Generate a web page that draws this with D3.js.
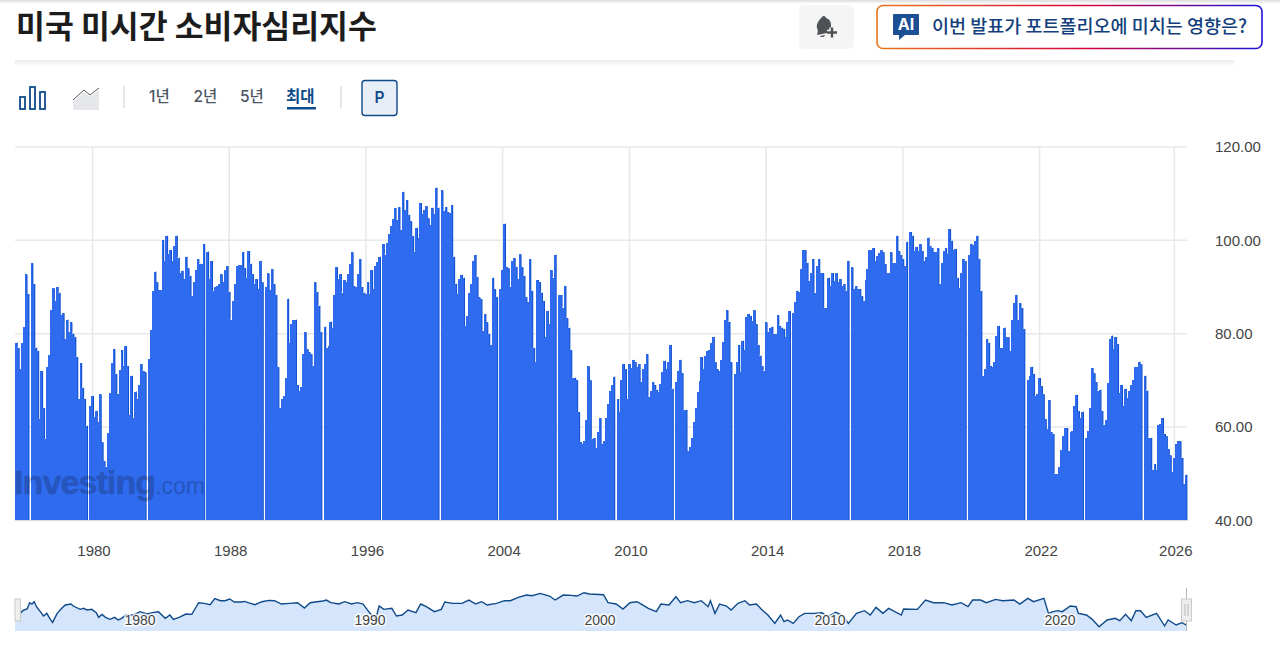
<!DOCTYPE html>
<html>
<head>
<meta charset="utf-8">
<script src="https://cdn.jsdelivr.net/npm/d3@7"></script>
<style>
  body { margin: 0; background: #fff; }
  svg { display: block; }
  text { font-family: Inter, "Noto Sans CJK KR", sans-serif; }
</style>
</head>
<body>
<svg id="chart" width="1280" height="655"></svg>
<script>
// main bars, split where the chart leaves a white gap
var seg0 = [78.1,77,72.4,78.1,81.5,92.7,88.5];
var seg1 = [95.1,90.6,77,76.3,61.7,72,64,57.5,72.8,75.5,85,89.7,87,90,88.8,84,84.4,78.8,83,80.3,82.4,80,79.3,75,66,73.7,68.4,66,60.3];
var seg2 = [64.6,66.6,62.2,63.5,61,67,56.7,52.7,51.5,58.7,67.2,73.7,76.7,71.4,67,72.2,76.5,73,77.3,73,62.5,71,62,67.6,66,69,73.5,72,71.7];
var seg3 = [74.6,80.8,89.2,93.3,91,89.3,89.3,100,95.6,101,97,98,95.6,98.8,101,96.3,93,93.5,91.7,96.5,94,92.4,88,91,93.7,96,95,94.9,99.2];
var seg4 = [97.6,91.7,95.6,89.2,90,90.3,90.7,92.7,91,93.6,94.5,89,83,87,90.6,94.5,94.7,94.7,97.5,94,92,97.7,95,92.7,90.7,91.7,89.5,95.6,91];
var seg5 = [90,92.9,89.3,93.8,90.6,88.3,72.8,64,66,66.7,70.4,87.5,78,82,83,83,69,67.8,68.5,75.6,80.3,76.7,76,75.6,73.1,91,89,86,80.3];
var seg6 = [81.5,77,77.4,82.6,81.2,88.3,94.2,91.7,92.8,88.8,91.5,91,92.8,95,97.4,90.2,90,92.8,96,90,88.8,88.5,91,88.5,93.6,89.5,94.5,95.4,96.5];
var seg7 = [99.2,96.9,99.5,101.3,103,104.5,106.9,104.3,107.1,102.2,110.4,106.4,108.6,105.5,104.1,101,97.6,102.7,100.4,108,105.7,106.4,107.3,104.7,103.2,107,105.6,111.3,107];
var seg8 = [110.7,106.3,107.1,106,105.8,107.6,96.5,90.7,88.5,91.7,92.6,92,81.7,83.8,88.8,90.6,95.6,96.9,92.2,87.8,87.4,80.6,84.2,82.4,79.9,77.6,92,89.5,87.8];
var seg9 = [89.5,93.6,103.6,94.3,94,90,95.6,96.2,94.3,91.7,97,94.2,92.4,87.8,86.7,96,89.2,77,74,91.5,91,88.8,87,79.2,84.9,82,93.6,92,96.9];
var seg10 = [88.3,88.3,85.6,90.2,83.3,81.3,76.4,70.6,70.6,70,63.2,56.7,56.4,57,61.4,73,70,57.5,57.6,55.5,58.9,61.9,56.3,57,61.9,65,67.8,68.9,70.8];
var seg11 = [66,63.2,70,73.5,72.4,66,73.5,72.6,74.4,73.9,72.8,73.5,69.6,72.4,73.4,75.6,66.4,67.8,69.6,68.9,68,67.6,69.2,71.7,74.2,72.4,73.9,77.6,68.2];
var seg12 = [69.7,72,74.4,71.5,63.7,63.7,54.8,55.7,57.7,61,64,67.6,69.9,74.9,72.4,75.3,76.2,76.5,77.9,79.3,73.9,72.4,71.9,74.4,78.3,83,85,82.6,73.9];
var seg13 = [71.4,73.9,77.6,71.7,78.5,76.4,83.5,84.2,83.8,82.8,85,82,77.6,75.3,73,72.1,82.4,80.3,81.2,81.5,80,80,84,81.7,81.3,81,79.2,82.4,84.8];
var seg14 = [84.5,86.7,89.2,89,93.8,97.9,97.9,95.2,91.3,93,96,88.8,94.5,96,93,93,85.6,85.6,92,90.2,93,91.3,93,91,91.7,90.2,90.6,89.2,95.6];
var seg15 = [94.2,89.5,90.2,89.5,89.5,88,87,91.5,93.8,97.9,97.9,98.3,95.6,96.7,97.2,97.9,97.4,94.9,93,93,97.4,95.2,95.2,101,97.7,96.9,96,94.5,99.7];
var seg16 = [101.8,101,97.7,98.6,97.7,99.2,97.7,95.6,96.4,100.6,98.8,98.4,97.4,97.4,98.3,90.7,95.2,97.7,98.3,97,102.4,99.9,97.9,98.1,92,89.7,93,96,95.6];
var seg17 = [96.9,99.2,99,99.9,101,96,89.2,71,72.5,78.8,78.1,73.1,72.8,73.9,79.5,81.7,77,77,81.3,79.2,79.2,76.2,82.9,86.5,88.3,82.9,86.5,85.5,81];
var seg18 = [70.1,71,72.9,71.4,66.7,67,70.5,68.7,67,61.7,59.5,65.8,58.9,58.5,50,50,51.4,55,58,59.7,59.8,54.8,58.9,59.2,64.6,66.9,63.4,62,63.3];
var seg19 = [57.7,59.2,64,72.6,71.5,69.6,67.8,68,63.4,60.5,61.4,69.4,78.8,79.6,76.7,79.2,77.8,67.2,69,64.4,68.2,66.2,67.7,69,70,72.8,72.8,74,73.4];
var seg20 = [71,67.8,57.7,57.7,50.7,52,50.7,60.5,60.7,61.9,58.5,58,55.3,53.9,50.3,53.3,56.3,57,56.9,53.4,47.7,49.8];
var segments = [seg0,seg1,seg2,seg3,seg4,seg5,seg6,seg7,seg8,seg9,seg10,seg11,seg12,seg13,seg14,seg15,seg16,seg17,seg18,seg19,seg20];

var yTicks = [40,60,80,100,120];
var xLabels = ["1980","1988","1996","2004","2010","2014","2018","2022","2026"];
var xLabelBars = [39,109,179,249,314,384,454,524,593];

// navigator series at the bottom, on its own time axis
var miniYears = [1974.8,1974.9,1975.1,1975.2,1975.3,1975.4,1975.5,1975.7,1975.8,1975.95,1976.1,1976.2,1976.4,1976.6,1976.75,1977,1977.1,1977.4,1977.55,1977.7,1977.9,1978.1,1978.2,1978.35,1978.5,1978.7,1978.9,1979.05,1979.2,1979.4,1979.7,1980,1980.3,1980.6,1980.8,1981.1,1981.3,1981.45,1981.7,1982,1982.25,1982.55,1982.8,1983.05,1983.25,1983.5,1983.7,1983.9,1984.1,1984.4,1984.55,1984.7,1985,1985.3,1985.6,1985.85,1986.15,1986.5,1986.85,1987.15,1987.4,1987.7,1987.95,1988.1,1988.3,1988.65,1988.9,1989.2,1989.45,1989.7,1990,1990.25,1990.4,1990.6,1990.95,1991.15,1991.4,1991.65,1992,1992.2,1992.45,1992.8,1993.1,1993.25,1993.6,1994,1994.3,1994.6,1994.85,1995.1,1995.5,1995.85,1996.1,1996.45,1996.8,1997.05,1997.4,1997.8,1998.05,1998.4,1998.75,1999,1999.3,1999.55,2000.15,2000.35,2000.7,2001,2001.3,2001.6,2001.74,2002.1,2002.45,2002.65,2003,2003.3,2003.5,2003.8,2004.1,2004.4,2004.7,2004.8,2005,2005.2,2005.5,2005.7,2006,2006.3,2006.5,2006.8,2007.05,2007.3,2007.6,2007.85,2008,2008.15,2008.4,2008.65,2008.9,2009.3,2009.65,2009.9,2010.25,2010.5,2010.8,2011.15,2011.5,2011.75,2012,2012.3,2012.55,2013.1,2013.2,2013.8,2014.15,2014.5,2014.95,2015.3,2015.7,2016,2016.2,2016.55,2016.8,2017.2,2017.5,2018,2018.25,2018.6,2018.85,2019.3,2019.5,2019.7,2019.9,2020.1,2020.45,2020.7,2020.8,2021.15,2021.4,2021.7,2022.05,2022.4,2022.6,2022.85,2023.1,2023.3,2023.5,2023.75,2024.2,2024.55,2024.7,2025.05,2025.3,2025.5];
var miniValues = [74.8,79.6,83.2,94,91.6,95.8,86.8,76,70,74.8,64,58.5,74.8,83.8,89.8,91.6,88,82,83.8,80.8,82,76,67.6,73,67.6,64,67.6,62.8,65.8,71.8,71.8,77.8,73.6,76.6,77.8,65.8,71.8,64,67.6,73.6,73,94,92.8,90.4,101.2,97.6,97.6,100.6,95.2,95.2,96.4,94,90.4,95.8,98.2,97.6,91.6,92.8,94,84.4,94,95.8,97,98.8,94,91.6,95.8,91.6,94,91.6,74.8,65,88,82,83.8,70,71.8,80.8,76,91.6,86.8,77.8,82,95.2,92.8,92.8,98.8,91.6,95.8,89.8,92.8,97.6,97.6,103.6,107.8,106.6,110.8,106,98.8,107.8,107.2,106,112,109.6,108.4,94,91.6,82.6,94,95.8,92.8,83.8,77.8,91.6,89.8,104.8,94,97.6,94,97.6,86.8,97.6,74.8,91.6,88,80.8,92.8,97.6,89.8,91.6,80.8,71.8,56.7,71.8,59.8,62.8,56.7,68.8,74.8,74.8,76,68.8,76.6,71.8,56.7,74.8,79.6,71.8,85.6,74.8,83.8,71.8,82.6,82,98.8,94,94,89.8,94,86.8,98.8,98.8,94,100,97.6,98.8,91.6,101.8,95.8,101.8,74.8,77.8,79.6,77.8,88,86.8,74.8,71.8,64,50.8,62.8,65.8,61.6,73,61.6,79.6,79.6,67.6,74.8,52,62.8,53.8,58,53.8];
var miniLabels = [1980,1990,2000,2010,2020];

var rangeLabels = ["1년","2년","5년","최대"];
var title = "미국 미시간 소비자심리지수";
var aiText = "이번 발표가 포트폴리오에 미치는 영향은?";

var navy = "#0f4a8a";
var axisFont = '"Liberation Sans"';
var svg = d3.select("#chart");
var defs = svg.append("defs");

var topFade = defs.append("linearGradient").attr("id","topFade").attr("x1",0).attr("x2",0).attr("y1",0).attr("y2",1);
topFade.append("stop").attr("offset",0).attr("stop-color","#dcdcdc");
topFade.append("stop").attr("offset",1).attr("stop-color","#fff");
var lineFade = defs.append("linearGradient").attr("id","lineFade").attr("x1",0).attr("x2",0).attr("y1",0).attr("y2",1);
lineFade.append("stop").attr("offset",0).attr("stop-color","#ececec");
lineFade.append("stop").attr("offset",1).attr("stop-color","#fff");
var aiBorder = defs.append("linearGradient").attr("id","aiBorder").attr("gradientUnits","userSpaceOnUse")
  .attr("x1",877).attr("x2",1262).attr("y1",0).attr("y2",0);
aiBorder.append("stop").attr("offset",0).attr("stop-color","#e8741c");
aiBorder.append("stop").attr("offset",0.55).attr("stop-color","#d6003c");
aiBorder.append("stop").attr("offset",1).attr("stop-color","#1a14d8");

// header
svg.append("rect").attr("x",0).attr("y",0).attr("width",1280).attr("height",4).attr("fill","url(#topFade)");
svg.append("text").attr("x",16).attr("y",38).attr("font-size",31.4).attr("font-weight",700).attr("fill","#1c1c1c")
  .style("font-family",'"Noto Sans CJK KR"').text(title);
svg.append("rect").attr("x",15).attr("y",60).attr("width",1219).attr("height",7).attr("fill","url(#lineFade)");

svg.append("rect").attr("x",799).attr("y",5).attr("width",55).attr("height",44).attr("rx",5).attr("fill","#f5f5f5");
svg.append("path").attr("fill","#4e5257")
  .attr("d","M822 17c1-2 4-1 4 1 3 1 5 3 5 7 0 3 0 5 1 7l-15 3c1-3 1-5 0-7-1-4 2-8 5-11zM820 36l5-1c0 2-4 3-5 1z");
svg.append("path").attr("stroke","#f5f5f5").attr("stroke-width",5.5).attr("fill","none").attr("d","M827 32.500h10M832 27.500v10");
svg.append("path").attr("stroke","#4e5257").attr("stroke-width",2.4).attr("fill","none").attr("d","M827 32.500h10M832 27.500v10");

svg.append("rect").attr("x",877).attr("y",5.500).attr("width",385).attr("height",43).attr("rx",6)
  .attr("fill","#fff").attr("stroke","url(#aiBorder)").attr("stroke-width",1.6);
svg.append("path").attr("fill","#1d4f94").attr("d","M894 14h24a1 1 0 0 1 1 1v19a1 1 0 0 1-1 1h-13l-6 5v-5h-5a1 1 0 0 1-1-1v-19a1 1 0 0 1 1-1z");
svg.append("text").attr("x",906).attr("y",30).attr("text-anchor","middle").attr("font-size",16).attr("font-weight",700).attr("fill","#fff").text("AI");
svg.append("text").attr("x",932).attr("y",33).attr("font-size",18.5).attr("font-weight",500).attr("fill","#123f7c")
  .style("font-family",'"Noto Sans CJK KR"').text(aiText);

// toolbar
var barIcon = svg.append("g").attr("fill","#fff").attr("stroke",navy).attr("stroke-width",1.8);
barIcon.append("rect").attr("x",20).attr("y",97).attr("width",5).attr("height",12);
barIcon.append("rect").attr("x",30).attr("y",87).attr("width",5).attr("height",22);
barIcon.append("rect").attr("x",40).attr("y",92).attr("width",5).attr("height",17);
svg.append("path").attr("fill","#e6e7ea").attr("d","M73 102l11-10 6 5 9-7v20h-26z");
svg.append("path").attr("fill","none").attr("stroke","#555").attr("stroke-width",1).attr("d","M73 100l11-10 6 5 9-7");
svg.append("line").attr("x1",124).attr("x2",124).attr("y1",86).attr("y2",108).attr("stroke","#dcdcdc").attr("stroke-width",1.4);
svg.append("line").attr("x1",341).attr("x2",341).attr("y1",86).attr("y2",108).attr("stroke","#dcdcdc").attr("stroke-width",1.4);

svg.selectAll(".range").data(rangeLabels).enter().append("text")
  .attr("class","range")
  .attr("x",function(d,i) { return [149,193.5,240,286][i] })
  .attr("y",101.5).attr("font-size",15.5)
  .attr("font-weight",function(d) { return d == "최대" ? 600 : 500 })
  .attr("fill",function(d) { return d == "최대" ? navy : "#4b5563" })
  .text(function(d) { return d });
svg.append("rect").attr("x",287).attr("y",107).attr("width",29).attr("height",2.500).attr("fill",navy);

svg.append("rect").attr("x",362).attr("y",80.500).attr("width",35).attr("height",35).attr("rx",3)
  .attr("fill","#e8eef7").attr("stroke",navy).attr("stroke-width",1.4);
svg.append("text").attr("x",379.500).attr("y",103).attr("text-anchor","middle").attr("font-size",15.5).attr("font-weight",600).attr("fill",navy).text("P");

// main chart
var values = [];
segments.forEach(function(s, i) {
  if (i > 0) values.push(null);
  s.forEach(function(v) { values.push(v) });
});
var bars = values.map(function(v, i) { return {i: i, v: v} }).filter(function(d) { return d.v !== null });

var x = d3.scaleBand().domain(d3.range(values.length)).range([15.4,1187]);
var y = d3.scaleLinear().domain([40,120]).range([520.3,147]);
var w = x.bandwidth();

svg.append("g").selectAll("line").data(yTicks).enter().append("line")
  .attr("x1",15).attr("x2",1187)
  .attr("y1",function(d) { return y(d) }).attr("y2",function(d) { return y(d) })
  .attr("stroke","#e7e8ea").attr("stroke-width",1.500);
svg.append("g").selectAll("line").data(xLabelBars).enter().append("line")
  .attr("x1",function(d) { return x(d) + w/2 }).attr("x2",function(d) { return x(d) + w/2 })
  .attr("y1",147).attr("y2",520)
  .attr("stroke","#e7e8ea").attr("stroke-width",1.500);

// crisp bars overlap a little so there are no seams inside the blue
svg.append("g").attr("shape-rendering","crispEdges").selectAll("rect").data(bars).enter().append("rect")
  .attr("x",function(d) { return x(d.i) - 0.3 })
  .attr("y",function(d) { return y(d.v) })
  .attr("width",w + 0.3)
  .attr("height",function(d) { return y(40) - y(d.v) })
  .attr("fill","#2f6bee");

// darker sliver on each falling edge
var falls = bars.filter(function(d) {
  var next = values[d.i + 1];
  return next === undefined || next === null || next < d.v;
});
svg.append("g").selectAll("rect").data(falls).enter().append("rect")
  .attr("x",function(d) { return x(d.i) + w - 0.5 })
  .attr("y",function(d) { return y(d.v) })
  .attr("width",0.9)
  .attr("height",function(d) {
    var next = values[d.i + 1];
    return (next ? y(next) : y(40)) - y(d.v);
  })
  .attr("fill","#0f4fc8");

// watermark
var mark = svg.append("text").attr("x",14).attr("y",494).attr("fill","#000").attr("opacity",0.2).style("font-family",axisFont);
mark.append("tspan").attr("font-size",34).attr("font-weight",700).attr("letter-spacing",-0.9).attr("stroke","#000").attr("stroke-width",0.6).text("Investing");
mark.append("tspan").attr("font-size",23).text(".com");

var yAxis = d3.axisRight(y).tickValues(yTicks).tickSize(0).tickPadding(0)
  .tickFormat(function(d) { return d3.format(".2f")(d) });
var yG = svg.append("g").attr("transform","translate(1187,0)").call(yAxis);
yG.select(".domain").remove();
yG.selectAll("text").attr("x",28).attr("font-size",15).attr("fill","#444").style("font-family",axisFont);

var xAxis = d3.axisBottom(x).tickValues(xLabelBars).tickSize(0).tickPadding(0)
  .tickFormat(function(d, i) { return xLabels[i] });
var xG = svg.append("g").attr("transform","translate(1.5,520)").call(xAxis);
xG.select(".domain").remove();
xG.selectAll("text").attr("y",36).attr("dy",0).attr("font-size",15).attr("fill","#444").style("font-family",axisFont);
svg.append("line").attr("x1",15).attr("x2",1187).attr("y1",520.5).attr("y2",520.5).attr("stroke","#d8dade").attr("stroke-width",1);

// navigator
var mx = d3.scaleLinear().domain([1980,2020]).range([140,1060]);
var my = d3.scaleLinear().domain([43,112]).range([631,592.7]);
var miniPts = miniYears.map(function(t, i) { return [t, miniValues[i]] });

var miniArea = d3.area().x(function(d) { return mx(d[0]) }).y0(631).y1(function(d) { return my(d[1]) });
var miniLine = d3.line().x(function(d) { return mx(d[0]) }).y(function(d) { return my(d[1]) });
svg.append("rect").attr("x",15).attr("y",my(miniValues[0])).attr("width",mx(miniYears[0]) - 15 + 1).attr("height",631 - my(miniValues[0])).attr("fill","#d5e5fb");
svg.append("path").datum(miniPts).attr("d",miniArea).attr("fill","#d5e5fb");
svg.append("path").datum(miniPts).attr("d",miniLine).attr("fill","none").attr("stroke","#0f4a8a").attr("stroke-width",1.4);

svg.append("g").selectAll("text").data(miniLabels).enter().append("text")
  .attr("x",function(d) { return mx(d) })
  .attr("y",625).attr("text-anchor","middle").attr("font-size",14).attr("fill","#444")
  .attr("stroke","#fff").attr("stroke-width",3).attr("stroke-opacity",0.85).attr("paint-order","stroke")
  .style("font-family",axisFont).text(function(d) { return d });

svg.append("rect").attr("x",15).attr("y",599).attr("width",5.500).attr("height",22).attr("fill","#eee").attr("stroke","#c9c9c9");
svg.append("line").attr("x1",1186.5).attr("x2",1186.5).attr("y1",588).attr("y2",631).attr("stroke","#b8b8b8");
svg.append("rect").attr("x",1181.5).attr("y",599).attr("width",10).attr("height",22).attr("fill","#eee").attr("stroke","#c9c9c9");
svg.append("path").attr("stroke","#b8b8b8").attr("d","M1185 604v12M1188 604v12");
</script>
</body>
</html>
